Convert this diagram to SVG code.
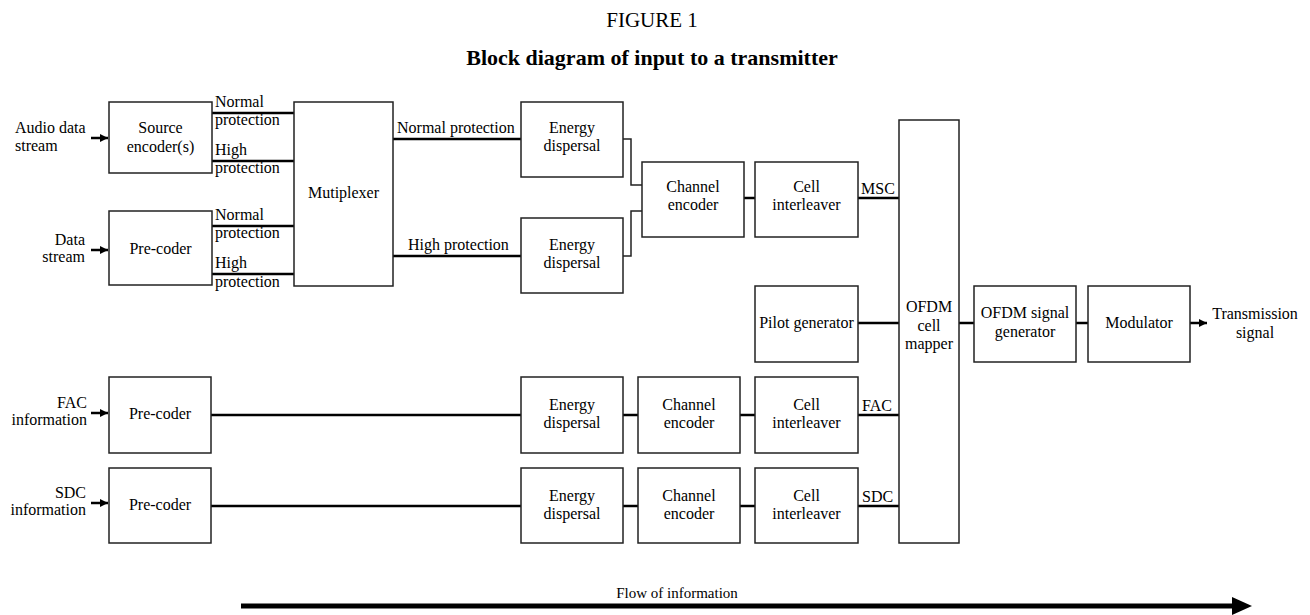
<svg xmlns="http://www.w3.org/2000/svg" width="1310" height="615" viewBox="0 0 1310 615" font-family="'Liberation Serif', 'Times New Roman', serif">
<defs>
<style>
.box{fill:#fff;stroke:#222;stroke-width:1.5}
.t{font-family:"Liberation Serif","Times New Roman",serif;font-size:16px;fill:#000}
.c{text-anchor:middle}
.e{text-anchor:end}
.ln{stroke:#000;stroke-width:2.5;fill:none}
.th{stroke:#222;stroke-width:1.5;fill:none}
</style>
<marker id="ah" viewBox="0 0 10 10" refX="10" refY="5" markerWidth="3.2" markerHeight="3.2" orient="auto" markerUnits="strokeWidth">
<path d="M0,0 L10,5 L0,10 z" fill="#000"/>
</marker>
</defs>
<rect width="1310" height="615" fill="#fff"/>

<g id="title">
<text class="t c" x="652" y="27" style="font-size:21px">FIGURE 1</text>
<text class="t c" x="652" y="65" style="font-size:22px;font-weight:bold">Block diagram of input to a transmitter</text>
</g>

<g id="connectors">
<line class="ln" x1="91" y1="138" x2="108" y2="138" marker-end="url(#ah)"/>
<line class="ln" x1="91" y1="250" x2="108" y2="250" marker-end="url(#ah)"/>
<line class="ln" x1="91" y1="413" x2="108" y2="413" marker-end="url(#ah)"/>
<line class="ln" x1="91" y1="503" x2="108" y2="503" marker-end="url(#ah)"/>
<line class="ln" x1="212" y1="113" x2="294" y2="113"/>
<line class="ln" x1="212" y1="161" x2="294" y2="161"/>
<line class="ln" x1="212" y1="226" x2="294" y2="226"/>
<line class="ln" x1="212" y1="274" x2="294" y2="274"/>
<line class="ln" x1="393" y1="139" x2="521" y2="139"/>
<line class="ln" x1="393" y1="256" x2="521" y2="256"/>
<polyline class="th" points="623,139 631,139 631,185 642,185"/>
<polyline class="th" points="623,256 631,256 631,211 642,211"/>
<line class="ln" x1="744" y1="198" x2="755" y2="198"/>
<line class="ln" x1="858" y1="198" x2="899" y2="198"/>
<line class="ln" x1="858" y1="323" x2="899" y2="323"/>
<line class="ln" x1="959" y1="323" x2="974" y2="323"/>
<line class="ln" x1="1076" y1="323" x2="1088" y2="323"/>
<line class="ln" x1="1190" y1="323" x2="1207" y2="323" marker-end="url(#ah)"/>
<line class="ln" x1="211" y1="415" x2="521" y2="415"/>
<line class="ln" x1="623" y1="415" x2="638" y2="415"/>
<line class="ln" x1="740" y1="415" x2="755" y2="415"/>
<line class="ln" x1="858" y1="415" x2="899" y2="415"/>
<line class="ln" x1="211" y1="506" x2="521" y2="506"/>
<line class="ln" x1="623" y1="506" x2="638" y2="506"/>
<line class="ln" x1="740" y1="506" x2="755" y2="506"/>
<line class="ln" x1="858" y1="506" x2="899" y2="506"/>
<line x1="241" y1="606" x2="1234" y2="606" stroke="#000" stroke-width="5"/>
<path d="M1232,597 L1252,606 L1232,615 z" fill="#000"/>
</g>

<g id="labels">
<text class="t" x="15" y="133">Audio data</text>
<text class="t" x="15" y="151">stream</text>
<text class="t e" x="85" y="245">Data</text>
<text class="t e" x="85" y="262">stream</text>
<text class="t e" x="87" y="408">FAC</text>
<text class="t e" x="87" y="425">information</text>
<text class="t e" x="86" y="498">SDC</text>
<text class="t e" x="86" y="515">information</text>
<text class="t" x="215" y="107">Normal</text>
<text class="t" x="215" y="125">protection</text>
<text class="t" x="215" y="155">High</text>
<text class="t" x="215" y="173">protection</text>
<text class="t" x="215" y="220">Normal</text>
<text class="t" x="215" y="238">protection</text>
<text class="t" x="215" y="268">High</text>
<text class="t" x="215" y="287">protection</text>
<text class="t" x="397" y="133">Normal protection</text>
<text class="t" x="408" y="250">High protection</text>
<text class="t" x="861" y="194">MSC</text>
<text class="t" x="862" y="411">FAC</text>
<text class="t" x="862" y="502">SDC</text>
<text class="t c" x="1255" y="319">Transmission</text>
<text class="t c" x="1255" y="338">signal</text>
<text class="t c" x="677" y="598" style="font-size:15px">Flow of information</text>
</g>

<g id="source-encoder"><rect class="box" x="109" y="102" width="103" height="71"/>
<text class="t c" x="160.5" y="133">Source</text><text class="t c" x="160.5" y="152">encoder(s)</text></g>
<g id="pre-coder-data"><rect class="box" x="109" y="211" width="103" height="74"/>
<text class="t c" x="160.5" y="254">Pre-coder</text></g>
<g id="multiplexer"><rect class="box" x="294" y="102" width="99" height="184"/>
<text class="t c" x="343.5" y="198">Mutiplexer</text></g>
<g id="energy-dispersal-1"><rect class="box" x="521" y="102" width="102" height="75"/>
<text class="t c" x="572" y="133">Energy</text><text class="t c" x="572" y="151">dispersal</text></g>
<g id="energy-dispersal-2"><rect class="box" x="521" y="218" width="102" height="75"/>
<text class="t c" x="572" y="250">Energy</text><text class="t c" x="572" y="268">dispersal</text></g>
<g id="channel-encoder-msc"><rect class="box" x="642" y="162" width="102" height="75"/>
<text class="t c" x="693" y="192">Channel</text><text class="t c" x="693" y="210">encoder</text></g>
<g id="cell-interleaver-msc"><rect class="box" x="755" y="162" width="103" height="75"/>
<text class="t c" x="806.5" y="192">Cell</text><text class="t c" x="806.5" y="210">interleaver</text></g>
<g id="pilot-generator"><rect class="box" x="755" y="286" width="103" height="76"/>
<text class="t c" x="806.5" y="328">Pilot generator</text></g>
<g id="ofdm-cell-mapper"><rect class="box" x="899" y="120" width="60" height="423"/>
<text class="t c" x="929" y="312">OFDM</text><text class="t c" x="929" y="331">cell</text><text class="t c" x="929" y="349">mapper</text></g>
<g id="ofdm-signal-generator"><rect class="box" x="974" y="286" width="102" height="76"/>
<text class="t c" x="1025" y="318">OFDM signal</text><text class="t c" x="1025" y="337">generator</text></g>
<g id="modulator"><rect class="box" x="1088" y="286" width="102" height="76"/>
<text class="t c" x="1139" y="328">Modulator</text></g>
<g id="pre-coder-fac"><rect class="box" x="109" y="377" width="102" height="76"/>
<text class="t c" x="160" y="419">Pre-coder</text></g>
<g id="energy-dispersal-fac"><rect class="box" x="521" y="377" width="102" height="76"/>
<text class="t c" x="572" y="410">Energy</text><text class="t c" x="572" y="428">dispersal</text></g>
<g id="channel-encoder-fac"><rect class="box" x="638" y="377" width="102" height="76"/>
<text class="t c" x="689" y="410">Channel</text><text class="t c" x="689" y="428">encoder</text></g>
<g id="cell-interleaver-fac"><rect class="box" x="755" y="377" width="103" height="76"/>
<text class="t c" x="806.5" y="410">Cell</text><text class="t c" x="806.5" y="428">interleaver</text></g>
<g id="pre-coder-sdc"><rect class="box" x="109" y="468" width="102" height="75"/>
<text class="t c" x="160" y="510">Pre-coder</text></g>
<g id="energy-dispersal-sdc"><rect class="box" x="521" y="468" width="102" height="75"/>
<text class="t c" x="572" y="501">Energy</text><text class="t c" x="572" y="519">dispersal</text></g>
<g id="channel-encoder-sdc"><rect class="box" x="638" y="468" width="102" height="75"/>
<text class="t c" x="689" y="501">Channel</text><text class="t c" x="689" y="519">encoder</text></g>
<g id="cell-interleaver-sdc"><rect class="box" x="755" y="468" width="103" height="75"/>
<text class="t c" x="806.5" y="501">Cell</text><text class="t c" x="806.5" y="519">interleaver</text></g>
</svg>
